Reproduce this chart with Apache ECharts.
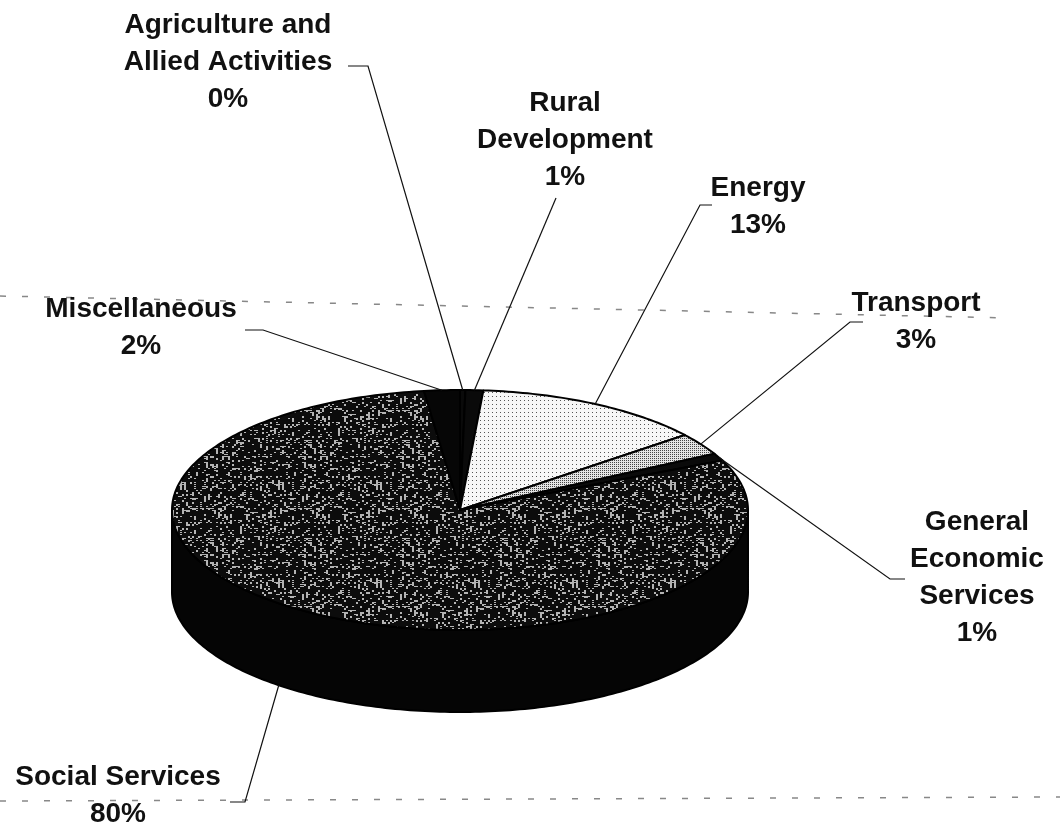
<!DOCTYPE html>
<html>
<head>
<meta charset="utf-8">
<title>Plan outlay by sector</title>
<style>
  body { margin: 0; background: #fff; }
  #chart { width: 1060px; height: 838px; }
</style>
<script src="https://cdn.jsdelivr.net/npm/echarts@6/dist/echarts.min.js"></script>
</head>
<body>
<div id="chart"></div>
<script>
// slices, clockwise from 12 o'clock
var sectors = ['Agriculture and\nAllied Activities', 'Rural\nDevelopment', 'Energy', 'Transport',
  'General\nEconomic\nServices', 'Social Services', 'Miscellaneous'];
var shares = [0.3, 1, 13, 3, 1, 80, 2];

// layout only: label block centre, leader start [x, y, stub, attach angle or null]
var labelAt = [[228, 62], [565, 140], [758, 207], [916, 322], [977, 578], [118, 796], [141, 328]];
var leaderAt = [[368, 66, -20, null], [556, 198, 0, null], [700, 205, 12, null], [850, 322, 13, null],
  [890, 579, 15, null], [245, 802, -15, 219], [263, 330, -18, null]];

function dots(bg, ink, step) {
  var c = document.createElement('canvas');
  c.width = c.height = step;
  var g = c.getContext('2d');
  g.fillStyle = bg; g.fillRect(0, 0, step, step);
  g.fillStyle = ink; g.fillRect(0, 0, 1, 1);
  return { image: c, repeat: 'repeat' };
}

// scanned-looking grain for the big slice (texture only)
function grain(bg, ink, size, pct) {
  var c = document.createElement('canvas');
  c.width = c.height = size;
  var g = c.getContext('2d');
  g.fillStyle = bg; g.fillRect(0, 0, size, size);
  g.fillStyle = ink;
  for (var y = 0; y < size; y += 2) {
    for (var x = 0; x < size; x += 2) {
      var h = Math.imul(x, 73856093) ^ Math.imul(y, 19349663);
      h = Math.imul(h ^ (h >>> 13), 1274126177);
      if (((h >>> 8) & 255) < pct * 2.56) g.fillRect(x, y, 2, 1 + (h & 1));
    }
  }
  return { image: c, repeat: 'repeat' };
}

var fills = ['#0a0a0a', '#0a0a0a', dots('#f7f7f7', '#555', 4), dots('#e4e4e4', '#444', 2), '#0a0a0a',
  grain('#0c0c0c', '#b4b4b4', 98, 22), '#060606'];

var total = shares.reduce(function (a, b) { return a + b; }, 0);
var starts = [];
var acc = 0;
shares.forEach(function (v) { starts.push(acc / total * 360); acc += v; });

var cx = 460, cy = 510, rx = 288, ry = 120, depth = 82;

function pt(a, dy) {
  var r = a * Math.PI / 180;
  return [cx + rx * Math.sin(r), cy - ry * Math.cos(r) + (dy || 0)];
}
function arc(a0, a1, dy) {
  var pts = [];
  var n = Math.max(2, Math.ceil(a1 - a0));
  for (var k = 0; k <= n; k++) pts.push(pt(a0 + (a1 - a0) * k / n, dy));
  return pts;
}

function renderItem(params, api) {
  var i = params.dataIndex;
  var a0 = starts[i];
  var a1 = a0 + api.value(0) / total * 360;
  var kids = [];

  var s0 = Math.max(a0, 90), s1 = Math.min(a1, 270);
  if (s1 > s0) {
    var side = arc(s0, s1, 0).concat(arc(s0, s1, depth).reverse());
    kids.push({ type: 'polygon', z2: 1, shape: { points: side },
      style: { fill: '#050505', stroke: '#000', lineWidth: 2 } });
  }
  kids.push({ type: 'polygon', z2: 5, shape: { points: [[cx, cy]].concat(arc(a0, a1, 0)) },
    style: { fill: fills[i], stroke: '#000', lineWidth: 2, lineJoin: 'round' } });

  var L = leaderAt[i];
  var mid = L[3] != null ? L[3] : (a0 + a1) / 2;
  var hit = (mid > 90 && mid < 270) ? pt(mid, depth) : pt(mid, 0);
  kids.push({ type: 'polyline', z2: 8,
    shape: { points: [[L[0] + L[2], L[1]], [L[0], L[1]], hit] },
    style: { stroke: '#111', lineWidth: 1.2, fill: null } });

  var pct = Math.round(api.value(0) / total * 100);
  kids.push({ type: 'text', z2: 9, x: labelAt[i][0], y: labelAt[i][1],
    style: { text: sectors[i] + '\n' + pct + '%', align: 'center', verticalAlign: 'middle',
      fontFamily: 'Liberation Sans', fontSize: 28, fontWeight: 'bold', lineHeight: 37, fill: '#111' } });

  return { type: 'group', children: kids };
}

var chart = echarts.init(document.getElementById('chart'));
chart.setOption({
  backgroundColor: '#fff',
  animation: false,
  graphic: [
    { type: 'line', shape: { x1: 0, y1: 296, x2: 1010, y2: 318 },
      style: { stroke: '#888', lineWidth: 1.5, lineDash: [6, 16] } },
    { type: 'line', shape: { x1: 0, y1: 801, x2: 1060, y2: 797 },
      style: { stroke: '#888', lineWidth: 1.5, lineDash: [6, 16] } }
  ],
  series: [{
    type: 'custom',
    coordinateSystem: 'none',
    renderItem: renderItem,
    data: shares
  }]
});
</script>
</body>
</html>
